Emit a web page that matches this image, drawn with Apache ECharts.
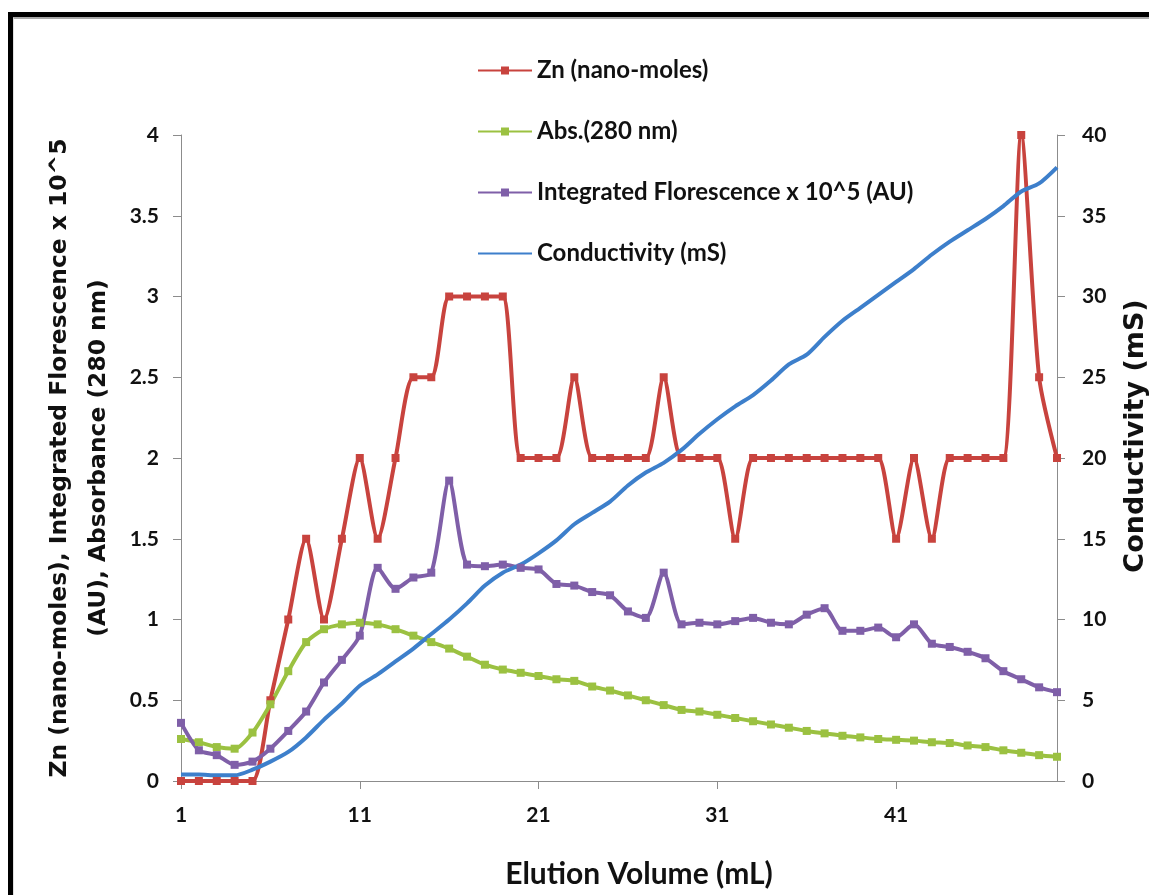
<!DOCTYPE html>
<html>
<head>
<meta charset="utf-8">
<script src="https://cdn.jsdelivr.net/npm/echarts@6/dist/echarts.min.js"></script>
<style>
  html, body { margin: 0; padding: 0; background: #fff; overflow: hidden; }
  #chart { position: absolute; left: 0; top: 0; width: 1149px; height: 895px; }
  #frame { position: absolute; left: 8px; top: 12px; width: 1200px; height: 950px;
           border-top: 5px solid #000; border-left: 5px solid #000; pointer-events: none; }
  #frame2 { position: absolute; left: 13px; top: 17px; width: 1200px; height: 950px;
            border-top: 2px solid #a8a8a8; border-left: 1px solid #e0e0e0; pointer-events: none; }
</style>
</head>
<body>
<div id="chart"></div>
<div id="frame"></div>
<div id="frame2"></div>
<script>
// elution volume (mL), one fraction per mL
var volumes = [];
for (var v = 1; v <= 50; v++) { volumes.push(String(v)); }

// Zn (nano-moles)
var zinc = [0, 0, 0, 0, 0, 0.5, 1, 1.5, 1, 1.5,
            2, 1.5, 2, 2.5, 2.5, 3, 3, 3, 3, 2,
            2, 2, 2.5, 2, 2, 2, 2, 2.5, 2, 2,
            2, 1.5, 2, 2, 2, 2, 2, 2, 2, 2,
            1.5, 2, 1.5, 2, 2, 2, 2, 4, 2.5, 2];

// Abs. (280 nm)
var absorbance = [0.26, 0.24, 0.21, 0.20, 0.30, 0.475, 0.68, 0.86, 0.94, 0.97,
                  0.98, 0.97, 0.94, 0.90, 0.86, 0.82, 0.77, 0.72, 0.69, 0.67,
                  0.65, 0.63, 0.62, 0.585, 0.56, 0.53, 0.50, 0.47, 0.44, 0.43,
                  0.41, 0.39, 0.37, 0.35, 0.33, 0.31, 0.295, 0.28, 0.27, 0.26,
                  0.255, 0.25, 0.24, 0.235, 0.22, 0.21, 0.19, 0.175, 0.16, 0.15];

// Integrated Florescence x 10^5 (AU)
var fluorescence = [0.36, 0.19, 0.16, 0.10, 0.12, 0.20, 0.31, 0.43, 0.61, 0.75,
                    0.90, 1.32, 1.19, 1.26, 1.29, 1.86, 1.34, 1.33, 1.34, 1.32,
                    1.31, 1.22, 1.21, 1.17, 1.15, 1.05, 1.01, 1.29, 0.97, 0.98,
                    0.97, 0.99, 1.01, 0.98, 0.97, 1.03, 1.07, 0.93, 0.93, 0.95,
                    0.89, 0.97, 0.85, 0.83, 0.80, 0.76, 0.68, 0.63, 0.58, 0.55];

// Conductivity (mS), right axis
var conductivity = [0.4, 0.4, 0.35, 0.35, 0.7, 1.2, 1.8, 2.7, 3.8, 4.8,
                    5.9, 6.6, 7.4, 8.2, 9.1, 10.0, 11.0, 12.1, 12.9, 13.4,
                    14.1, 14.9, 15.9, 16.6, 17.3, 18.3, 19.1, 19.7, 20.5, 21.5,
                    22.4, 23.2, 23.9, 24.8, 25.8, 26.4, 27.5, 28.5, 29.3, 30.1,
                    30.9, 31.7, 32.6, 33.4, 34.1, 34.8, 35.6, 36.5, 37.0, 38.0];

var FONT = 'Lato, "Open Sans", sans-serif';
var WIDE = '"DejaVu Sans", sans-serif';
var AXIS_GRAY = '#8c8c8c';

function lineSeries(name, data, color, yIdx, marker) {
	return {
		name : name,
		type : 'line',
		yAxisIndex : yIdx,
		data : data,
		smooth : 0.25,
		symbol : marker ? 'rect' : 'none',
		symbolSize : 8,
		showSymbol : marker,
		lineStyle : { color : color, width : 4 },
		itemStyle : { color : color },
		animation : false
	};
}

var myChart = echarts.init(document.getElementById('chart'));
var option = {
	backgroundColor : '#fff',
	textStyle : { fontFamily : FONT },
	grid : { left : 181, right : 92, top : 135, bottom : 114, containLabel : false, outerBoundsMode : 'none' },
	legend : {
		orient : 'vertical',
		left : 472,
		top : 53,
		itemWidth : 54,
		itemHeight : 10,
		itemGap : 36,
		textStyle : { fontFamily : FONT, fontWeight : 'bold', fontSize : 24, color : '#111', lineHeight : 25 },
		data : ['Zn (nano-moles)', 'Abs.(280 nm)', 'Integrated Florescence x 10^5 (AU)',
			{ name : 'Conductivity (mS)', itemStyle : { opacity : 0 } }]
	},
	xAxis : {
		type : 'category',
		data : volumes,
		boundaryGap : false,
		name : 'Elution Volume (mL)',
		nameLocation : 'middle',
		nameGap : 78,
		// title sits ~20px right of the plot centre in the original
		nameTextStyle : { fontFamily : FONT, fontWeight : 'bold', fontSize : 30, color : '#111', padding : [0, 0, 0, 40] },
		axisLine : { lineStyle : { color : AXIS_GRAY, width : 1 } },
		axisTick : { show : true, interval : 9, length : 8, lineStyle : { color : AXIS_GRAY } },
		axisLabel : { interval : 9, margin : 24, fontFamily : FONT, fontWeight : 'bold', fontSize : 21, color : '#111' },
		splitLine : { show : false }
	},
	yAxis : [ {
		type : 'value',
		min : 0,
		max : 4,
		interval : 0.5,
		name : 'Zn (nano-moles), Integrated Florescence x 10^5\n(AU), Absorbance (280 nm)',
		nameLocation : 'middle',
		nameGap : 60,
		nameTextStyle : { fontFamily : WIDE, fontWeight : 'bold', fontSize : 23.4, color : '#111', lineHeight : 39 },
		axisLine : { show : true, lineStyle : { color : AXIS_GRAY, width : 1 } },
		axisTick : { show : true, length : 8, lineStyle : { color : AXIS_GRAY } },
		axisLabel : { margin : 22, fontFamily : FONT, fontWeight : 'bold', fontSize : 21, color : '#111' },
		splitLine : { show : false }
	}, {
		type : 'value',
		min : 0,
		max : 40,
		interval : 5,
		position : 'right',
		axisLine : { show : true, lineStyle : { color : AXIS_GRAY, width : 1 } },
		axisTick : { show : true, length : 8, lineStyle : { color : AXIS_GRAY } },
		axisLabel : { margin : 25, fontFamily : FONT, fontWeight : 'bold', fontSize : 21, color : '#111' },
		splitLine : { show : false }
	} ],
	// right axis title sits a little above the axis middle in the original
	graphic : [ {
		type : 'text',
		x : 1136,
		y : 436,
		rotation : Math.PI / 2,
		style : {
			text : 'Conductivity (mS)',
			font : 'bold 27px "DejaVu Sans", sans-serif',
			fill : '#111',
			align : 'center',
			verticalAlign : 'middle'
		}
	} ],
	series : [
		lineSeries('Zn (nano-moles)', zinc, '#C8433E', 0, true),
		lineSeries('Abs.(280 nm)', absorbance, '#9BC141', 0, true),
		lineSeries('Integrated Florescence x 10^5 (AU)', fluorescence, '#7F5FA8', 0, true),
		lineSeries('Conductivity (mS)', conductivity, '#3D7FCB', 1, false)
	]
};
myChart.setOption(option);
</script>
</body>
</html>
